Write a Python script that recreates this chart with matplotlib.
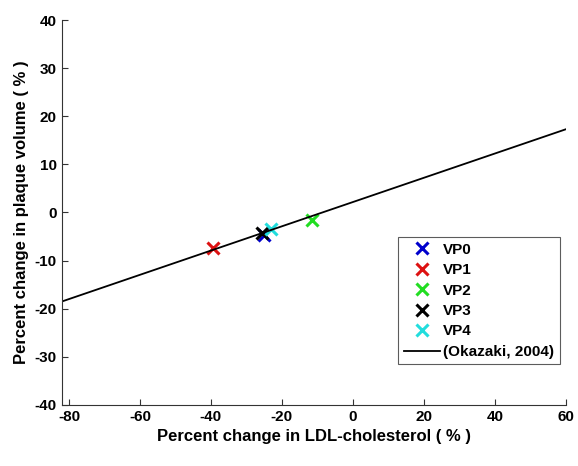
import matplotlib
matplotlib.use('Agg')
import matplotlib.pyplot as plt
import numpy as np

plt.rcParams['font.family'] = ['Liberation Sans', 'DejaVu Sans']
plt.rcParams['font.weight'] = 'bold'
plt.rcParams['axes.unicode_minus'] = False

# virtual patients: percent change in LDL-C vs plaque volume
vp_names = ['VP0', 'VP1', 'VP2', 'VP3', 'VP4']
vp_ldl = [-25.0, -39.5, -11.5, -25.5, -23.0]
vp_plaque = [-4.6, -7.4, -1.5, -4.2, -3.4]
vp_colors = ['#0000cc', '#dd1111', '#22dd22', '#000000', '#22dddd']

# Okazaki 2004 regression line endpoints
ref_x = [-82, 60]
ref_y = [-18.5, 17.3]

fig = plt.figure(figsize=(5.78, 4.66), dpi=100)
ax = fig.add_axes([0.107, 0.131, 0.872, 0.826])

for name, x, y, c in zip(vp_names, vp_ldl, vp_plaque, vp_colors):
    ax.plot(x, y, 'x', color=c, markersize=8, markeredgewidth=2.2, label=name)
ax.plot(ref_x, ref_y, '-', color='black', linewidth=1.3, label='(Okazaki, 2004)')

ax.set_xlim(-82, 60)
ax.set_ylim(-40, 40)
ax.set_xticks(np.arange(-80, 61, 20))
ax.set_yticks(np.arange(-40, 41, 10))
ax.tick_params(direction='in', labelsize=11, length=4, color='#333333')
ax.spines['top'].set_visible(False)
ax.spines['right'].set_visible(False)
for s in ['left', 'bottom']:
    ax.spines[s].set_color('#333333')

ax.set_xlabel('Percent change in LDL-cholesterol ( % )', fontsize=12, fontweight='bold')
ax.set_ylabel('Percent change in plaque volume ( % )', fontsize=12, fontweight='bold')

leg = ax.legend(loc='lower right', bbox_to_anchor=(1.003, 0.086), fontsize=11,
                frameon=True, fancybox=False, edgecolor='#333333',
                handlelength=2.4, handletextpad=0.2, borderpad=0.35, labelspacing=0.42)
leg.get_frame().set_linewidth(0.8)

fig.savefig('out.png', dpi=100)
